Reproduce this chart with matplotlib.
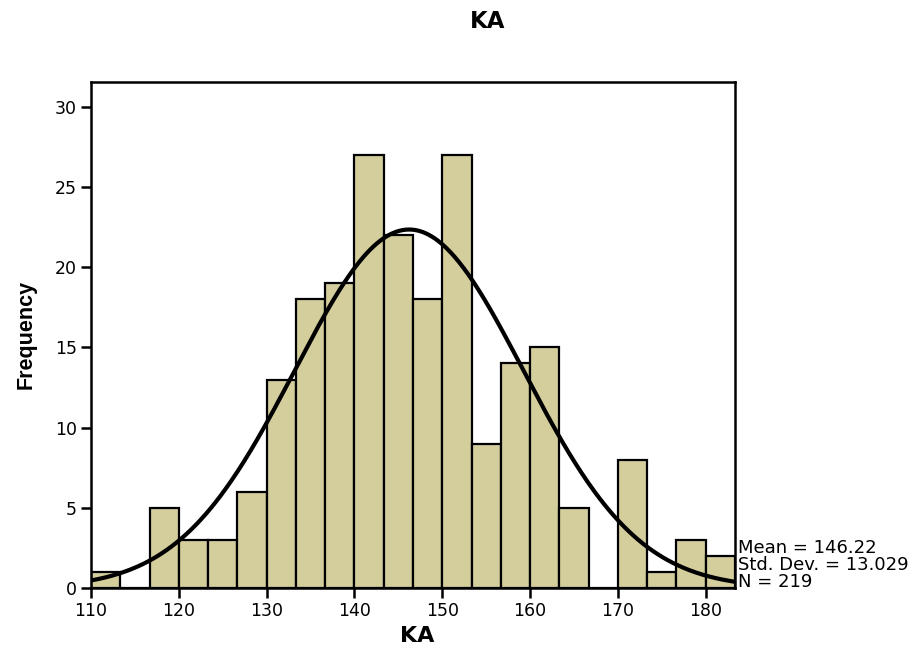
import numpy as np
import matplotlib as mpl
import matplotlib.pyplot as plt

mpl.use('Agg')

plt.rcParams['font.family'] = ['DejaVu Sans']

# histogram of KA, bins of width 10/3 starting at 110
bin_start = 110.0
bin_width = 10.0 / 3.0
counts = [1, 0, 5, 3, 3, 6, 13, 18, 19, 27, 22, 18, 27, 9, 14, 15, 5, 0, 8, 1, 3, 2]
mean = 146.22
std_dev = 13.029
n_total = 219
x_ticks = [110, 120, 130, 140, 150, 160, 170, 180]
y_ticks = [0, 5, 10, 15, 20, 25, 30]

edges = bin_start + bin_width * np.arange(len(counts) + 1)

fig = plt.figure(figsize=(9.2, 6.53), dpi=100)
ax = fig.add_axes([91 / 920, 1 - 588 / 653, (735 - 91) / 920, (588 - 82) / 653])

ax.bar(edges[:-1], counts, width=bin_width, align='edge',
       color='#D3CE9C', edgecolor='black', linewidth=1.6, zorder=2)

# fitted normal curve scaled to counts
xs = np.linspace(edges[0], edges[-1], 400)
ys = n_total * bin_width / (std_dev * np.sqrt(2 * np.pi)) * np.exp(-0.5 * ((xs - mean) / std_dev) ** 2)
ax.plot(xs, ys, color='black', linewidth=3, zorder=3)

ax.set_xlim(edges[0], edges[-1])
ax.set_ylim(0, 31.55)
ax.set_xticks(x_ticks)
ax.set_yticks(y_ticks)
for s in ax.spines.values():
    s.set_linewidth(1.8)
ax.tick_params(direction='out', length=7, width=1.8, labelsize=12.5, pad=3)

fig.text(417 / 920, 1 - 636 / 653, 'KA', ha='center', va='center',
         fontsize=16, fontweight='bold')
fig.text(26 / 920, 1 - 334 / 653, 'Frequency', ha='center', va='center', rotation=90,
         fontsize=15.5, fontweight='bold', family=['Liberation Sans', 'DejaVu Sans'])
fig.text(488 / 920, 1 - 21 / 653, 'KA', ha='center', va='center',
         fontsize=16.5, fontweight='bold')

stats = ['Mean = %.2f' % mean, 'Std. Dev. = %.3f' % std_dev, 'N = %d' % n_total]
for i, t in enumerate(stats):
    fig.text(738 / 920, 1 - (548 + 17 * i) / 653, t, ha='left', va='center', fontsize=13)

plt.savefig('out.png')
